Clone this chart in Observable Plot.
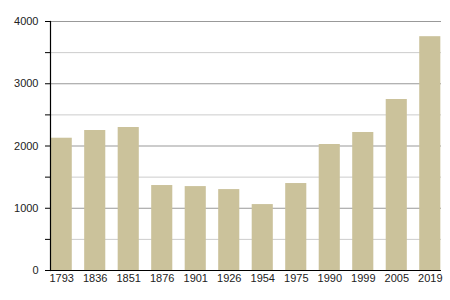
<!DOCTYPE html>
<html>
<head>
<meta charset="utf-8">
<script src="https://cdn.jsdelivr.net/npm/d3@7"></script>
<script src="https://cdn.jsdelivr.net/npm/@observablehq/plot@0.6"></script>
<style>
  html, body { margin: 0; padding: 0; background: #fff; }
  svg { display: block; }
</style>
</head>
<body>
<div id="chart"></div>
<script>
const years = ["1793", "1836", "1851", "1876", "1901", "1926", "1954", "1975", "1990", "1999", "2005", "2019"];
const values = [2125, 2249, 2297, 1365, 1348, 1300, 1059, 1397, 2024, 2217, 2747, 3756];
const minorTicks = [500, 1500, 2500, 3500];
const majorTicks = [0, 1000, 2000, 3000, 4000];
const yTicks = d3.range(0, 4001, 500);

const data = years.map((y, i) => ({year: y, value: values[i]}));

const chart = Plot.plot({
  width: 450,
  height: 300,
  marginLeft: 50,
  marginRight: 9,
  marginTop: 21,
  marginBottom: 30,
  style: {fontFamily: "'Liberation Sans', Arial, sans-serif", fontSize: "11px", color: "#222", background: "#fff"},
  x: {domain: years, paddingInner: 0.37, paddingOuter: 0.02, round: false, label: null},
  y: {domain: [0, 4000], label: null},
  marks: [
    Plot.gridY(minorTicks, {stroke: "#cccccc", strokeOpacity: 1, strokeWidth: 1}),
    Plot.gridY(majorTicks, {stroke: "#999999", strokeOpacity: 1, strokeWidth: 1}),
    Plot.barY(data, {x: "year", y: "value", fill: "#cbc29b"}),
    Plot.axisY(yTicks, {tickSize: 5, tickPadding: 7, stroke: "#000", tickFormat: d => d % 1000 === 0 ? String(d) : "", fill: "#222"}),
    Plot.axisX({tickSize: 0, tickPadding: 4, fill: "#222"}),
    Plot.frame({anchor: "left", stroke: "#000", strokeWidth: 1.2}),
    Plot.ruleY([0], {stroke: "#000", strokeWidth: 1.2})
  ]
});
document.getElementById("chart").appendChild(chart);
</script>
</body>
</html>
